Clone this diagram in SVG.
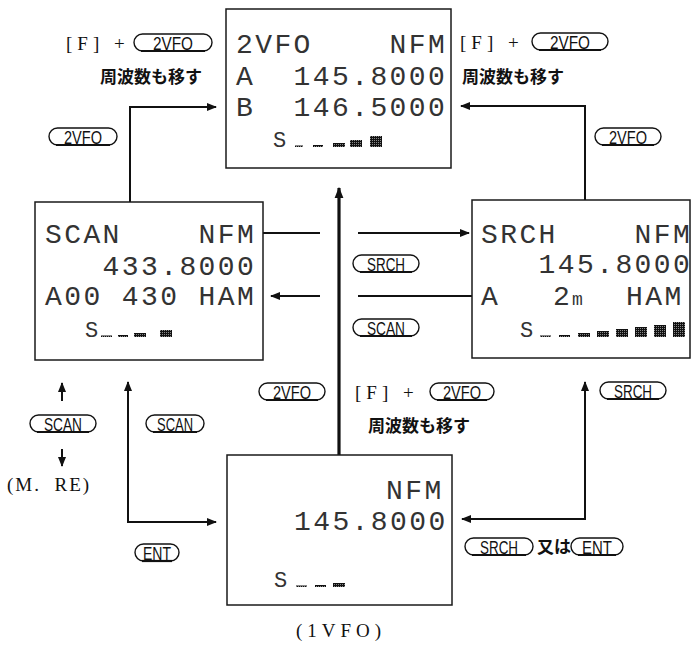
<svg xmlns="http://www.w3.org/2000/svg" width="696" height="655" viewBox="0 0 696 655">
<style>
.box{fill:#fff;stroke:#1a1a1a;stroke-width:1.5}
.lcd{font-family:"Liberation Mono","DejaVu Sans Mono",monospace;font-size:28px;letter-spacing:2.4px;fill:#333}
.smeter{font-family:"Liberation Mono","DejaVu Sans Mono",monospace;font-size:22px;fill:#333}
.ln{fill:none;stroke:#111;stroke-width:2}
.thick{fill:none;stroke:#111;stroke-width:3.2}
.pill{fill:#fff;stroke:#111;stroke-width:1.4}
.pb{stroke:#111;stroke-width:2.2}
.bt{font-family:"Liberation Sans",Arial,sans-serif;font-size:19px;fill:#111;text-anchor:middle}
.ser{font-family:"Liberation Serif","Times New Roman",serif;font-size:19px;fill:#111}
.jp{font-family:"Noto Sans CJK JP","Noto Sans CJK SC",sans-serif;font-size:17px;font-weight:700;fill:#111}
</style>
<defs>
<pattern id="grid" width="2" height="2" patternUnits="userSpaceOnUse"><rect width="2" height="2" fill="#111"/><rect width="1" height="1" fill="#888"/></pattern>
<marker id="ah" viewBox="0 0 10 8" refX="9" refY="4" markerWidth="10" markerHeight="8" markerUnits="userSpaceOnUse" orient="auto-start-reverse"><path d="M0 0L10 4L0 8z" fill="#111"/></marker>
<marker id="ahb" viewBox="0 0 10 8" refX="9" refY="4" markerWidth="11" markerHeight="10" markerUnits="userSpaceOnUse" orient="auto-start-reverse"><path d="M0 0L10 4L0 8z" fill="#111"/></marker>
</defs>

<g id="connectors">
<path class="ln" d="M130 202V107H216" marker-end="url(#ah)"/>
<path class="ln" d="M585 200V106H461" marker-end="url(#ah)"/>
<path class="ln" d="M263 233H320"/>
<path class="ln" d="M358 233H469" marker-end="url(#ah)"/>
<path class="ln" d="M472 296H358"/>
<path class="ln" d="M320 296H271" marker-end="url(#ah)"/>
<path class="thick" d="M339 455V188" marker-end="url(#ahb)"/>
<path class="ln" d="M216 522H128V382" marker-start="url(#ah)" marker-end="url(#ah)"/>
<path class="ln" d="M462 519H585V382" marker-start="url(#ah)" marker-end="url(#ah)"/>
<path class="ln" d="M62 401V383" marker-end="url(#ah)"/>
<path class="ln" d="M62 449V466" marker-end="url(#ah)"/>
</g>

<g id="node-2vfo">
<rect class="box" x="226" y="9" width="225" height="159"/>
<text class="lcd" x="236" y="53" xml:space="preserve">2VFO    NFM</text>
<text class="lcd" x="236" y="85" xml:space="preserve">A  145.8000</text>
<text class="lcd" x="236" y="116" xml:space="preserve">B  146.5000</text>
<text class="smeter" x="273" y="147">S</text>
<rect x="295" y="145.5" width="8" height="1.5" fill="url(#grid)"/>
<rect x="313" y="145" width="10" height="2" fill="url(#grid)"/>
<rect x="333" y="143" width="12" height="4" fill="url(#grid)"/>
<rect x="350" y="140" width="12" height="7" fill="url(#grid)"/>
<rect x="370" y="136" width="12" height="11" fill="url(#grid)"/>
</g>

<g id="node-scan">
<rect class="box" x="35" y="202" width="228" height="158"/>
<text class="lcd" x="45" y="243" xml:space="preserve">SCAN    NFM</text>
<text class="lcd" x="45" y="275" xml:space="preserve">   433.8000</text>
<text class="lcd" x="45" y="305" xml:space="preserve">A00 430 HAM</text>
<text class="smeter" x="85" y="337">S</text>
<rect x="101" y="335.5" width="11" height="1.5" fill="url(#grid)"/>
<rect x="118" y="335" width="10" height="2" fill="url(#grid)"/>
<rect x="134" y="333" width="12" height="4" fill="url(#grid)"/>
<rect x="160" y="330" width="12" height="7" fill="url(#grid)"/>
</g>

<g id="node-srch">
<rect class="box" x="472" y="200" width="218" height="158"/>
<text class="lcd" x="481" y="243" xml:space="preserve">SRCH    NFM</text>
<text class="lcd" x="481" y="273" xml:space="preserve">   145.8000</text>
<text class="lcd" x="481" y="305">A</text>
<text class="lcd" x="553" y="305">2</text>
<text class="lcd" x="572" y="305" style="font-size:18px;letter-spacing:0">m</text>
<text class="lcd" x="626" y="305">HAM</text>
<text class="smeter" x="520" y="337">S</text>
<rect x="540" y="335.5" width="11" height="1.5" fill="url(#grid)"/>
<rect x="559" y="335" width="11" height="2" fill="url(#grid)"/>
<rect x="578" y="333" width="12" height="4" fill="url(#grid)"/>
<rect x="597" y="331" width="12" height="6" fill="url(#grid)"/>
<rect x="616" y="329" width="12" height="8" fill="url(#grid)"/>
<rect x="635" y="327" width="12" height="10" fill="url(#grid)"/>
<rect x="654" y="325" width="12" height="12" fill="url(#grid)"/>
<rect x="673" y="322" width="12" height="15" fill="url(#grid)"/>
</g>

<g id="node-1vfo">
<rect class="box" x="227" y="455" width="225" height="150"/>
<text class="lcd" x="386" y="499">NFM</text>
<text class="lcd" x="294" y="530">145.8000</text>
<text class="smeter" x="274" y="587">S</text>
<rect x="296" y="585.5" width="11" height="1.5" fill="url(#grid)"/>
<rect x="315" y="585" width="11" height="2" fill="url(#grid)"/>
<rect x="333" y="583" width="12" height="4" fill="url(#grid)"/>
<text class="ser" x="341" y="637" text-anchor="middle" letter-spacing="5">(1VFO)</text>
</g>

<g id="labels">
<text class="ser" x="66" y="50" letter-spacing="5">[F] +</text>
<g><rect class="pill" x="134" y="34" width="78" height="17" rx="8.5"/><line class="pb" x1="141" y1="51" x2="205" y2="51"/><text class="bt" x="173" y="49.5" textLength="40" lengthAdjust="spacingAndGlyphs">2VFO</text></g>
<text class="jp" x="100" y="83">周波数も移す</text>

<text class="ser" x="460" y="49" letter-spacing="5">[F] +</text>
<g><rect class="pill" x="532" y="33" width="76" height="17" rx="8.5"/><line class="pb" x1="539" y1="50" x2="601" y2="50"/><text class="bt" x="570" y="48.5" textLength="40" lengthAdjust="spacingAndGlyphs">2VFO</text></g>
<text class="jp" x="462" y="83">周波数も移す</text>

<g><rect class="pill" x="49" y="128" width="68" height="17" rx="8.5"/><line class="pb" x1="56" y1="145" x2="110" y2="145"/><text class="bt" x="83" y="143.5" textLength="38" lengthAdjust="spacingAndGlyphs">2VFO</text></g>
<g><rect class="pill" x="595" y="128" width="66" height="17" rx="8.5"/><line class="pb" x1="602" y1="145" x2="654" y2="145"/><text class="bt" x="628" y="143.5" textLength="38" lengthAdjust="spacingAndGlyphs">2VFO</text></g>

<g><rect class="pill" x="353" y="255" width="66" height="17" rx="8.5"/><line class="pb" x1="360" y1="272" x2="412" y2="272"/><text class="bt" x="386" y="270.5" textLength="38" lengthAdjust="spacingAndGlyphs">SRCH</text></g>
<g><rect class="pill" x="353" y="319" width="66" height="17" rx="8.5"/><line class="pb" x1="360" y1="336" x2="412" y2="336"/><text class="bt" x="386" y="334.5" textLength="38" lengthAdjust="spacingAndGlyphs">SCAN</text></g>

<g><rect class="pill" x="259" y="383" width="66" height="17" rx="8.5"/><line class="pb" x1="266" y1="400" x2="318" y2="400"/><text class="bt" x="292" y="398.5" textLength="38" lengthAdjust="spacingAndGlyphs">2VFO</text></g>
<text class="ser" x="355" y="399" letter-spacing="5">[F] +</text>
<g><rect class="pill" x="430" y="383" width="64" height="17" rx="8.5"/><line class="pb" x1="437" y1="400" x2="487" y2="400"/><text class="bt" x="462" y="398.5" textLength="38" lengthAdjust="spacingAndGlyphs">2VFO</text></g>
<text class="jp" x="368" y="432">周波数も移す</text>

<g><rect class="pill" x="600" y="382" width="66" height="17" rx="8.5"/><line class="pb" x1="607" y1="399" x2="659" y2="399"/><text class="bt" x="633" y="397.5" textLength="38" lengthAdjust="spacingAndGlyphs">SRCH</text></g>

<g><rect class="pill" x="30" y="415" width="66" height="17" rx="8.5"/><line class="pb" x1="37" y1="432" x2="89" y2="432"/><text class="bt" x="63" y="430.5" textLength="38" lengthAdjust="spacingAndGlyphs">SCAN</text></g>
<g><rect class="pill" x="146" y="415" width="58" height="17" rx="8.5"/><line class="pb" x1="153" y1="432" x2="197" y2="432"/><text class="bt" x="175" y="430.5" textLength="36" lengthAdjust="spacingAndGlyphs">SCAN</text></g>
<text class="ser" x="7" y="491" xml:space="preserve" letter-spacing="2">(M.  RE)</text>

<g><rect class="pill" x="135" y="544" width="44" height="17" rx="8.5"/><line class="pb" x1="142" y1="561" x2="172" y2="561"/><text class="bt" x="157" y="559.5" textLength="28" lengthAdjust="spacingAndGlyphs">ENT</text></g>

<g><rect class="pill" x="465" y="538" width="68" height="17" rx="8.5"/><line class="pb" x1="472" y1="555" x2="526" y2="555"/><text class="bt" x="499" y="553.5" textLength="38" lengthAdjust="spacingAndGlyphs">SRCH</text></g>
<text class="jp" x="537" y="553">又は</text>
<g><rect class="pill" x="571" y="538" width="52" height="17" rx="8.5"/><line class="pb" x1="578" y1="555" x2="616" y2="555"/><text class="bt" x="597" y="553.5" textLength="30" lengthAdjust="spacingAndGlyphs">ENT</text></g>
</g>
</svg>
